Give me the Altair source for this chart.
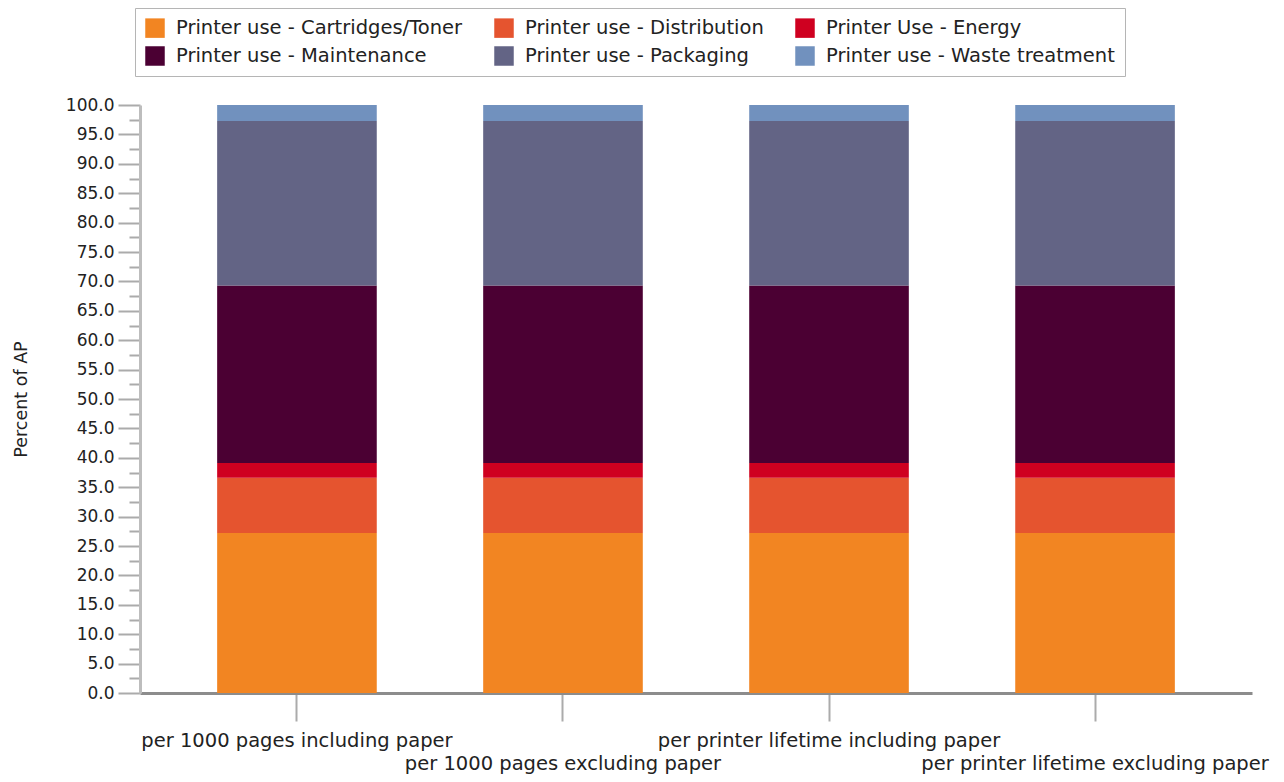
import json
import altair as alt
import pandas as pd

# ---- data ----
categories = [
    "per 1000 pages including paper",
    "per 1000 pages excluding paper",
    "per printer lifetime including paper",
    "per printer lifetime excluding paper",
]
series = [
    "Printer use - Cartridges/Toner",
    "Printer use - Distribution",
    "Printer Use - Energy",
    "Printer use - Maintenance",
    "Printer use - Packaging",
    "Printer use - Waste treatment",
]
cartridges = [27.2, 27.2, 27.2, 27.2]
distribution = [9.4, 9.4, 9.4, 9.4]
energy = [2.5, 2.5, 2.5, 2.5]
maintenance = [30.2, 30.2, 30.2, 30.2]
packaging = [28.0, 28.0, 28.0, 28.0]
waste = [2.7, 2.7, 2.7, 2.7]
colors = ["#F28522", "#E5542F", "#CF0020", "#4B0033", "#636485", "#7191BE"]

values_by_series = [cartridges, distribution, energy, maintenance, packaging, waste]
rows = []
for si, (name, vals) in enumerate(zip(series, values_by_series)):
    for cat, v in zip(categories, vals):
        rows.append({"category": cat, "series": name, "value": v, "order": si})
df = pd.DataFrame(rows)

FONT = "DejaVu Sans"
TEXT = "#222222"
AXIS_GREY = "#ababab"

major_ticks = [i * 5 for i in range(21)]
minor_ticks = [i * 5 + 2.5 for i in range(20)]
staggered = categories[1::2]

y_scale = alt.Scale(domain=[0, 100], nice=False, zero=True)

x_axis = alt.Axis(
    title=None,
    labelAngle=0,
    labelFont=FONT,
    labelFontSize=19.5,
    labelColor=TEXT,
    labelLimit=600,
    labelBaseline="top",
    labelPadding=10,
    labelLineHeight=23,
    labelExpr=f"indexof({json.dumps(staggered)}, datum.value) >= 0 ? ['', datum.value] : datum.value",
    tickSize=28,
    tickWidth=2,
    tickColor=AXIS_GREY,
    domainColor="#8c8c8c",
    domainWidth=3,
)

y_axis = alt.Axis(
    title="Percent of AP",
    orient="left",
    values=major_ticks,
    format=".1f",
    grid=False,
    labelFont=FONT,
    labelFontSize=17,
    labelColor=TEXT,
    labelPadding=4,
    tickSize=22,
    tickWidth=2,
    tickColor=AXIS_GREY,
    domainColor="#bdbdbd",
    domainWidth=3,
    titleFont=FONT,
    titleFontSize=17.5,
    titleFontWeight="normal",
    titleColor=TEXT,
    titleX=-119,
    titleY=294,
    titleAlign="center",
    titleBaseline="middle",
    titleAngle=270,
)

minor_axis = alt.Axis(
    title=None,
    orient="left",
    values=minor_ticks,
    labels=False,
    grid=False,
    domain=False,
    tickSize=11,
    tickWidth=2,
    tickColor=AXIS_GREY,
)

bars = alt.Chart(df).mark_bar().encode(
    x=alt.X(
        "category:N",
        sort=categories,
        axis=x_axis,
        scale=alt.Scale(paddingInner=0.4, paddingOuter=0.29),
    ),
    y=alt.Y("value:Q", stack="zero", scale=y_scale, axis=y_axis),
    color=alt.Color(
        "series:N",
        scale=alt.Scale(domain=series, range=colors),
        legend=alt.Legend(
            title=None,
            orient="none",
            legendX=-5,
            legendY=-97,
            columns=3,
            direction="horizontal",
            symbolType="square",
            symbolSize=380,
            symbolStrokeWidth=0,
            symbolOpacity=1,
            labelFont=FONT,
            labelFontSize=19.5,
            labelColor=TEXT,
            labelLimit=500,
            labelOffset=11,
            columnPadding=31,
            rowPadding=8,
            padding=10,
            strokeColor="#b5b5b5",
        ),
    ),
    order=alt.Order("order:Q", sort="ascending"),
)

minor = alt.Chart(pd.DataFrame({"v": [0, 100]})).mark_point(opacity=0).encode(
    y=alt.Y("v:Q", scale=y_scale, axis=minor_axis),
)

chart = (
    alt.layer(minor, bars)
    .resolve_axis(y="independent")
    .properties(
        width=1112,
        height=588,
        autosize=alt.AutoSizeParams(type="none"),
        padding={"left": 132, "top": 97, "right": 24, "bottom": 81},
        background="white",
    )
    .configure_view(strokeWidth=0)
)

chart.save("out.html", embed_options={"renderer": "svg", "actions": False})
